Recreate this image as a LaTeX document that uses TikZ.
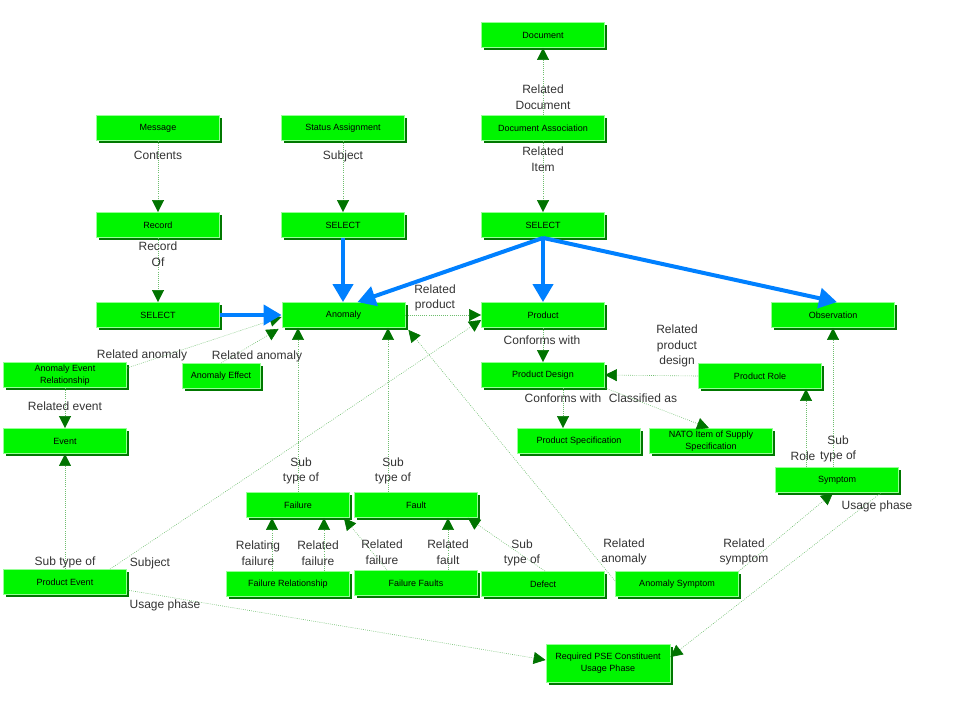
\documentclass[tikz,border=0pt]{standalone}
\usepackage{fontspec}
\setmainfont{Liberation Sans}
\usetikzlibrary{arrows.meta,shadows,calc}
\definecolor{boxgreen}{RGB}{0,245,0}
\definecolor{edgegreen}{RGB}{150,255,150}
\definecolor{shadowgreen}{RGB}{0,120,0}
\definecolor{linegreen}{RGB}{110,190,110}
\definecolor{tipgreen}{RGB}{0,115,0}
\definecolor{bluearrow}{RGB}{0,128,255}
\tikzset{
  ent/.style={draw=edgegreen, line width=0.8pt, fill=boxgreen, minimum width=123pt, minimum height=25pt,
    inner sep=1pt, align=center, font=\fontsize{9}{11.5}\selectfont,
    drop shadow={shadow xshift=2.5pt, shadow yshift=-2.5pt, fill=shadowgreen, opacity=1}},
  conn/.style={draw=linegreen, line width=0.6pt, dash pattern=on 0.8pt off 1.3pt,
    -{Triangle[width=12pt,length=12pt,color=tipgreen]}},
  sel/.style={draw=bluearrow, line width=4pt, -{Triangle[width=20pt,length=18pt,color=bluearrow]}},
  lbl/.style={font=\fontsize{12}{15.5}\selectfont, text=black!80, align=center, inner sep=0pt}
}
\begin{document}
\begin{tikzpicture}[x=1pt,y=-1pt]
\useasboundingbox (0,0) rectangle (960,720);
% entities
\node[ent] (doc) at (543,35) {Document};
\node[ent] (docassoc) at (543,128) {Document Association};
\node[ent] (selR) at (543,225) {SELECT};
\node[ent] (msg) at (158,128) {Message};
\node[ent] (status) at (343,128) {Status Assignment};
\node[ent] (record) at (158,225) {Record};
\node[ent] (selM) at (343,225) {SELECT};
\node[ent] (selL) at (158,315) {SELECT};
\node[ent] (anomaly) at (343.5,315) {Anomaly};
\node[ent] (product) at (543,315) {Product};
\node[ent] (obs) at (833,315) {Observation};
\node[ent] (aer) at (65,375) {Anomaly Event\\Relationship};
\node[ent, minimum width=78pt] (effect) at (221,376) {Anomaly Effect};
\node[ent] (pdesign) at (543,375) {Product Design};
\node[ent] (prole) at (760,376) {Product Role};
\node[ent] (event) at (65,441) {Event};
\node[ent] (pspec) at (579,441) {Product Specification};
\node[ent] (nato) at (711,441) {NATO Item of Supply\\Specification};
\node[ent] (symptom) at (837,480) {Symptom};
\node[ent, minimum width=103pt] (failure) at (298,505) {Failure};
\node[ent] (fault) at (416,505) {Fault};
\node[ent] (failrel) at (288,584) {Failure Relationship};
\node[ent] (failfaults) at (416,583) {Failure Faults};
\node[ent] (defect) at (543,584) {Defect};
\node[ent] (anosym) at (677,584) {Anomaly Symptom};
\node[ent] (pevent) at (65,582) {Product Event};
\node[ent, minimum width=124pt, minimum height=38pt] (pse) at (608,663) {Required PSE Constituent\\Usage Phase};
% helper coordinates
\coordinate (fa) at ([xshift=-28pt]fault.north);
\coordinate (pd) at ([xshift=20pt]pdesign.south);
\coordinate (sr) at ([xshift=-31pt]symptom.north);
\coordinate (fr1) at ([xshift=-16pt]failrel.north);
\coordinate (fr2) at ([xshift=36pt]failrel.north);
\coordinate (ff2) at ([xshift=32pt]failfaults.north);
% dotted connectors
\draw[conn] (docassoc.north) -- (doc.south);
\draw[conn] (docassoc.south) -- (selR.north);
\draw[conn] (msg.south) -- (record.north);
\draw[conn] (status.south) -- (selM.north);
\draw[conn] (record.south) -- (selL.north);
\draw[conn] (anomaly.east) -- (product.west);
\draw[conn] ([yshift=7pt]aer.east) -- ([yshift=-2pt]anomaly.west);
\draw[conn] (effect.north) -- ([xshift=-3pt,yshift=-1pt]anomaly.south west);
\draw[conn] (aer.south) -- (event.north);
\draw[conn] (pevent.north) -- (event.south);
\draw[conn] ([xshift=45pt]pevent.north) -- ([yshift=-5pt]product.west);
\draw[conn] ([yshift=-8pt]pevent.east) -- ([yshift=3pt]pse.west);
\draw[conn] (failure.north) -- (failure.north |- anomaly.south);
\draw[conn] (fa) -- (fa |- anomaly.south);
\draw[conn] ([yshift=3pt]anosym.west) -- ([xshift=3pt,yshift=-2pt]anomaly.south east);
\draw[conn] (product.south) -- (pdesign.north);
\draw[conn] (prole.west) -- (pdesign.east);
\draw[conn] (pd) -- (pd |- pspec.north);
\draw[conn] (pdesign.south east) -- ([xshift=-2pt]nato.north);
\draw[conn] (sr) -- (sr |- prole.south);
\draw[conn] (obs.south |- symptom.north) -- (obs.south);
\draw[conn] (fr1) -- (fr1 |- failure.south);
\draw[conn] (fr2) -- (fr2 |- failure.south);
\draw[conn] ([xshift=-29pt]failfaults.north) -- ([xshift=-6pt]failure.south east);
\draw[conn] (ff2) -- (ff2 |- fault.south);
\draw[conn] ([xshift=2pt]defect.north) -- ([xshift=-10pt]fault.south east);
\draw[conn] (anosym.north east) -- ([xshift=-4pt]symptom.south);
\draw[conn] ([xshift=-18pt]symptom.south east) -- ([yshift=6pt]pse.east);
% select arrows
\draw[sel] (selL.east) -- (anomaly.west);
\draw[sel] (selM.south) -- (selM.south |- anomaly.north);
\draw[sel] (selR.south) -- ([xshift=14pt]anomaly.north);
\draw[sel] (selR.south) -- (product.north);
\draw[sel] (selR.south) -- ([xshift=4pt]obs.north);
% labels
\node[lbl] (l1) at (543,97) {Related\\Document};
\node[lbl] (l2) at (543,159) {Related\\Item};
\node[lbl] (l3) at (158,155) {Contents};
\node[lbl] (l4) at (343,156) {Subject};
\node[lbl] (l5) at (158,254) {Record\\Of};
\node[lbl] (l6) at (435,298) {Related\\product};
\node[lbl] (l7) at (142,355) {Related anomaly};
\node[lbl] (l8) at (257,356) {Related anomaly};
\node[lbl] (l9) at (65,406) {Related event};
\node[lbl] (l10) at (542,340) {Conforms with};
\node[lbl] (l11) at (677,346) {Related\\product\\design};
\node[lbl] (l12) at (563,398) {Conforms with};
\node[lbl] (l13) at (643,398) {Classified as};
\node[lbl] (l14) at (803,456) {Role};
\node[lbl] (l15) at (838,449) {Sub\\type of};
\node[lbl] (l16) at (301,471) {Sub\\type of};
\node[lbl] (l17) at (393,471) {Sub\\type of};
\node[lbl] (l18) at (258,553) {Relating\\failure};
\node[lbl] (l19) at (318,553) {Related\\failure};
\node[lbl] (l20) at (382,552) {Related\\failure};
\node[lbl] (l21) at (448,552) {Related\\fault};
\node[lbl] (l22) at (522,553) {Sub\\type of};
\node[lbl] (l23) at (624,552) {Related\\anomaly};
\node[lbl] (l24) at (744,552) {Related\\symptom};
\node[lbl] (l25) at (877,506) {Usage phase};
\node[lbl] (l26) at (65,562) {Sub type of};
\node[lbl] (l27) at (150,563) {Subject};
\node[lbl] (l28) at (165,605) {Usage phase};
\end{tikzpicture}
\end{document}
